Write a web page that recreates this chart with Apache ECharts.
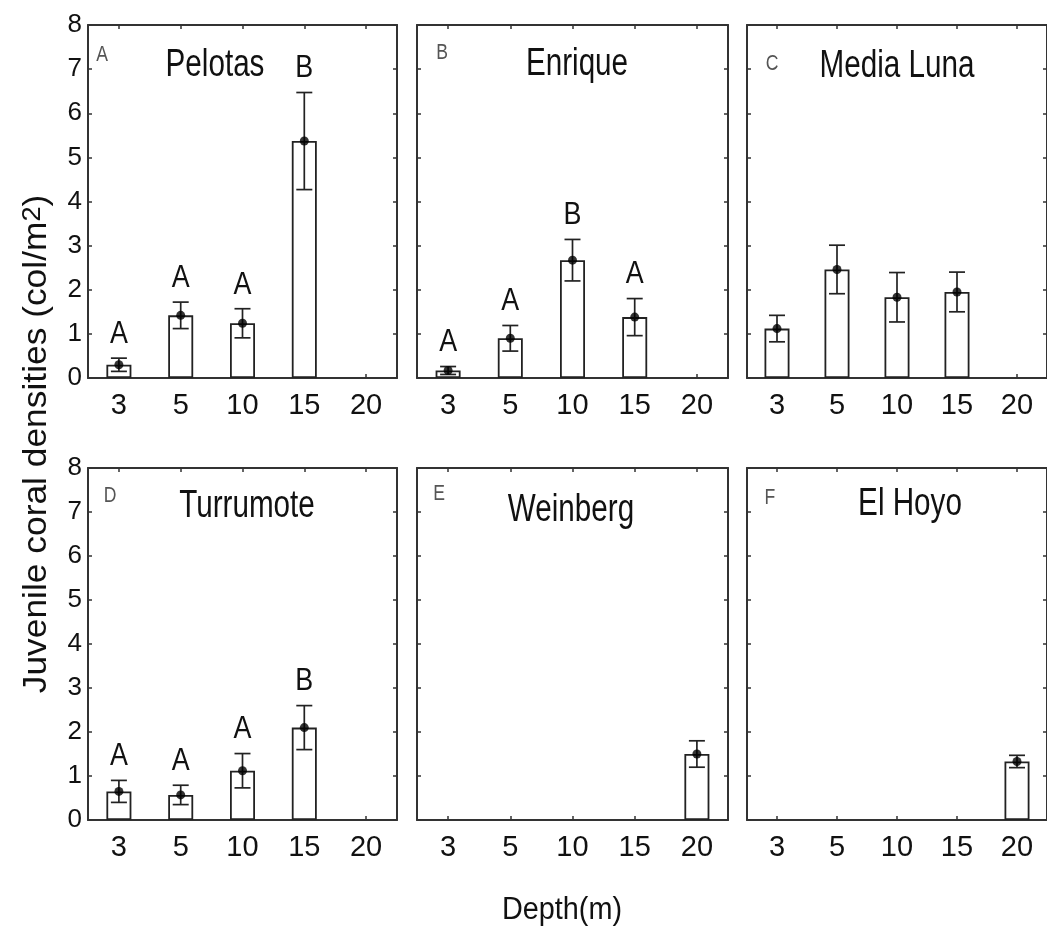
<!DOCTYPE html>
<html>
<head>
<meta charset="utf-8">
<script src="https://cdn.jsdelivr.net/npm/echarts@6/dist/echarts.min.js"></script>
<style>
html,body{margin:0;padding:0;background:#fff;}
#chart{width:1047px;height:937px;}
</style>
</head>
<body>
<div id="chart"></div>
<script>
// ---------- data ----------
const depths = ['3', '5', '10', '15', '20'];
const yTicks = [0, 1, 2, 3, 4, 5, 6, 7, 8];
const sites = ['Pelotas', 'Enrique', 'Media Luna', 'Turrumote', 'Weinberg', 'El Hoyo'];
const panelTags = ['A', 'B', 'C', 'D', 'E', 'F'];

const pelotasMean    = [0.30, 1.42, 1.24, 5.37, null];
const pelotasErr     = [0.15, 0.30, 0.33, 1.10, null];
const pelotasLetters = ['A', 'A', 'A', 'B', ''];

const enriqueMean    = [0.17, 0.90, 2.67, 1.38, null];
const enriqueErr     = [0.09, 0.29, 0.47, 0.42, null];
const enriqueLetters = ['A', 'A', 'B', 'A', ''];

const mediaLunaMean    = [1.12, 2.46, 1.83, 1.95, null];
const mediaLunaErr     = [0.30, 0.55, 0.56, 0.45, null];
const mediaLunaLetters = ['', '', '', '', ''];

const turrumoteMean    = [0.65, 0.57, 1.12, 2.10, null];
const turrumoteErr     = [0.25, 0.22, 0.39, 0.50, null];
const turrumoteLetters = ['A', 'A', 'A', 'B', ''];

const weinbergMean    = [null, null, null, null, 1.50];
const weinbergErr     = [null, null, null, null, 0.30];
const weinbergLetters = ['', '', '', '', ''];

const elHoyoMean    = [null, null, null, null, 1.33];
const elHoyoErr     = [null, null, null, null, 0.14];
const elHoyoLetters = ['', '', '', '', ''];

const means   = [pelotasMean, enriqueMean, mediaLunaMean, turrumoteMean, weinbergMean, elHoyoMean];
const errs    = [pelotasErr, enriqueErr, mediaLunaErr, turrumoteErr, weinbergErr, elHoyoErr];
const letters = [pelotasLetters, enriqueLetters, mediaLunaLetters, turrumoteLetters, weinbergLetters, elHoyoLetters];

// ---------- layout ----------
const REG = '"Liberation Sans", Arial, sans-serif';
const colLeft = [88, 417, 747];
const colWidth = [309, 311, 310];
const rowTop = [25, 468];
const rowHeight = [353, 352];
const titlePos = [[215, 66], [577, 65], [897, 67], [247, 507], [571, 511], [910, 505]];
const tagPos = [[102, 55], [442, 53], [772, 64], [110, 496], [439, 494], [770, 498]];

const grid = [], xAxis = [], yAxis = [], series = [], graphic = [];
const axisColor = '#333';

for (let p = 0; p < 6; p++) {
  const r = Math.floor(p / 3), c = p % 3;
  grid.push({left: colLeft[c], top: rowTop[r], width: colWidth[c], height: rowHeight[r], containLabel: false});
  const tick = {show: true, inside: true, length: 4, alignWithLabel: true, lineStyle: {color: axisColor, width: 1.5}};
  const line = {show: true, onZero: false, lineStyle: {color: axisColor, width: 2}};
  xAxis.push({
    gridIndex: p, type: 'category', data: depths, position: 'bottom', boundaryGap: true,
    axisLine: line, axisTick: tick, splitLine: {show: false},
    axisLabel: {show: true, fontFamily: REG, fontSize: 29, color: '#111', margin: 13}
  });
  xAxis.push({
    gridIndex: p, type: 'category', data: depths, position: 'top', boundaryGap: true,
    axisLine: line, axisTick: tick, splitLine: {show: false}, axisLabel: {show: false}
  });
  const yt = {show: true, inside: true, length: 4, lineStyle: {color: axisColor, width: 1.5}};
  yAxis.push({
    gridIndex: p, type: 'value', min: yTicks[0], max: yTicks[yTicks.length - 1], interval: 1, position: 'left',
    axisLine: line, axisTick: yt, splitLine: {show: false},
    axisLabel: {show: c === 0, fontFamily: REG, fontSize: 26, color: '#111', margin: 6}
  });
  yAxis.push({
    gridIndex: p, type: 'value', min: yTicks[0], max: yTicks[yTicks.length - 1], interval: 1, position: 'right',
    axisLine: line, axisTick: yt, splitLine: {show: false}, axisLabel: {show: false}
  });

  const m = means[p], e = errs[p], L = letters[p];
  series.push({
    type: 'bar', xAxisIndex: 2 * p, yAxisIndex: 2 * p, data: m, barWidth: 25,
    itemStyle: {color: '#fff', borderColor: '#222', borderWidth: 1.8}, silent: true, z: 2
  });
  const errData = [];
  m.forEach((v, i) => { if (v !== null) errData.push([i, v, e[i]]); });
  series.push({
    type: 'custom', xAxisIndex: 2 * p, yAxisIndex: 2 * p, data: errData, z: 3, silent: true,
    renderItem: function (params, api) {
      const i = api.value(0), mv = api.value(1), ev = api.value(2);
      const top = api.coord([i, mv + ev]);
      const bot = api.coord([i, Math.max(0, mv - ev)]);
      const hw = 8;
      const st = {stroke: '#222', lineWidth: 1.7};
      const children = [
        {type: 'line', shape: {x1: top[0], y1: top[1], x2: bot[0], y2: bot[1]}, style: st},
        {type: 'line', shape: {x1: top[0] - hw, y1: top[1], x2: top[0] + hw, y2: top[1]}, style: st},
        {type: 'line', shape: {x1: bot[0] - hw, y1: bot[1], x2: bot[0] + hw, y2: bot[1]}, style: st}
      ];
      const lt = L[i];
      if (lt) {
        children.push({type: 'text', x: top[0], y: top[1] - 24, scaleX: 0.84,
          style: {text: lt, fontFamily: REG, fontSize: 32, fill: '#111', textAlign: 'center', textVerticalAlign: 'middle'}});
      }
      return {type: 'group', children: children};
    }
  });
  series.push({
    type: 'scatter', xAxisIndex: 2 * p, yAxisIndex: 2 * p, data: m, symbol: 'circle', symbolSize: 9,
    itemStyle: {color: '#000'}, silent: true, z: 4
  });

  graphic.push({type: 'text', x: titlePos[p][0], y: titlePos[p][1], scaleX: 0.78, z: 10,
    style: {text: sites[p], fontFamily: REG, fontSize: 38, fill: '#111', textAlign: 'center', textVerticalAlign: 'middle'}});
  graphic.push({type: 'text', x: tagPos[p][0], y: tagPos[p][1], scaleX: 0.8, z: 10,
    style: {text: panelTags[p], fontFamily: REG, fontSize: 22, fill: '#555', textAlign: 'center', textVerticalAlign: 'middle'}});
}

graphic.push({
  type: 'text', x: 37, y: 444, rotation: Math.PI / 2, scaleX: 1.04, z: 10,
  style: {
    text: '{a|Juvenile coral densities (col/m}{s|2}{a|)}',
    rich: {a: {fontFamily: REG, fontSize: 34, fill: '#111'}, s: {fontFamily: REG, fontSize: 26, fill: '#111', verticalAlign: 'top'}},
    textAlign: 'center', textVerticalAlign: 'middle'
  }
});
graphic.push({
  type: 'text', x: 562, y: 910, scaleX: 0.93, z: 10,
  style: {text: 'Depth(m)', fontFamily: REG, fontSize: 31, fill: '#111', textAlign: 'center', textVerticalAlign: 'middle'}
});

const chart = echarts.init(document.getElementById('chart'), null, {renderer: 'canvas'});
chart.setOption({
  animation: false,
  backgroundColor: '#fff',
  grid: grid, xAxis: xAxis, yAxis: yAxis, series: series, graphic: graphic
});
</script>
</body>
</html>
